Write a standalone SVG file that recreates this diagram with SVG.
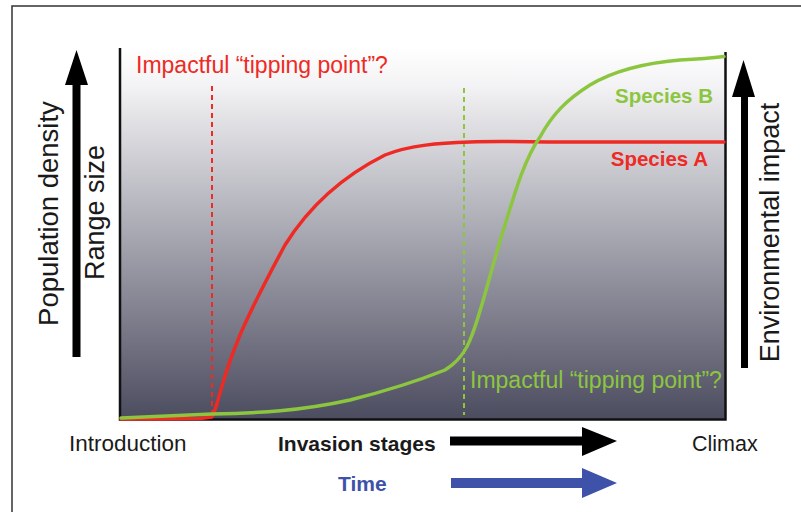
<svg xmlns="http://www.w3.org/2000/svg" width="801" height="512" viewBox="0 0 801 512">
<defs>
<linearGradient id="bg" x1="0" y1="0" x2="0" y2="1">
<stop offset="0" stop-color="#ffffff"/>
<stop offset="0.1" stop-color="#f3f3f5"/>
<stop offset="0.5" stop-color="#a8a8b2"/>
<stop offset="1" stop-color="#4c4c60"/>
</linearGradient>
<style>
text{font-family:"Liberation Sans",Arial,sans-serif}
.lbl{fill:#1a1a1a}
.b{font-weight:bold}
.red{fill:#ee2a24}
.grn{fill:#8cc63f}
.curve{fill:none;stroke-width:3.5;stroke-linecap:round;stroke-linejoin:round}
.dash{stroke-width:2;stroke-dasharray:5 4;fill:none}
</style>
</defs>
<rect width="801" height="512" fill="#ffffff"/>
<path d="M12 512 V6 H801" fill="none" stroke="#333" stroke-width="1.5"/>
<g id="plot">
<rect x="120" y="48" width="605" height="371" fill="url(#bg)"/>
<path d="M120 48 V419.5 H725.5 V52" fill="none" stroke="#111" stroke-width="2.5"/>
</g>
<g id="connectors">
<line class="dash" x1="212" y1="86" x2="212" y2="415" stroke="#ee2a24"/>
<line class="dash" x1="464" y1="88" x2="464" y2="415" stroke="#8cc63f"/>
<path class="curve" stroke="#ee2a24" d="M121 419 L150 419 L200 418.5 L212 417 C216 410 219 395 223 383 C228 365 233 352 240 335 C250 312 265 282 285 245 C310 205 345 175 385 155 C410 145 440 143 470 142 C500 141 530 142 560 142 L724 142"/>
<path class="curve" stroke="#8cc63f" d="M121 418 L212 414 C260 413 300 411 350 400 C390 390 420 380 445 370 C458 362 466 352 472 335 C482 310 492 265 505 225 C515 192 525 158 540 137 C552 115 566 100 590 85 C615 70 645 63 680 60 C700 59 712 58 724 56.5"/>
<path d="M72.5 357 V85 H65 L76.5 50 L88 85 H80.5 V357 Z" fill="#000"/>
<path d="M741 368 V97 H732 L743.5 60 L755 97 H748 V368 Z" fill="#000"/>
<path d="M450 436.5 H582 V427 L617 441 L582 456 V445.5 H450 Z" fill="#000"/>
<path d="M451 478 H582 V468 L617 483 L582 498 V488 H451 Z" fill="#3d52a8"/>
</g>
<g id="labels">
<text class="red" x="136" y="73" style="font-size:23px">Impactful “tipping point”?</text>
<text class="grn" x="470" y="388" style="font-size:23px">Impactful “tipping point”?</text>
<text class="grn b" x="713" y="103" style="font-size:20.5px" text-anchor="end">Species B</text>
<text class="red b" x="708" y="166" style="font-size:20.5px" text-anchor="end">Species A</text>
<text class="lbl" transform="translate(58 213.5) rotate(-90)" text-anchor="middle" style="font-size:27.5px">Population density</text>
<text class="lbl" transform="translate(104 212.5) rotate(-90)" text-anchor="middle" style="font-size:27px">Range size</text>
<text class="lbl" transform="translate(779 232.5) rotate(-90)" text-anchor="middle" style="font-size:27px">Environmental impact</text>
<text class="lbl" x="69" y="451" style="font-size:22.5px">Introduction</text>
<text class="lbl b" x="278" y="451" style="font-size:21px">Invasion stages</text>
<text class="lbl" x="692" y="451" style="font-size:21.5px">Climax</text>
<text class="b" x="338" y="491" style="font-size:21px" fill="#3d52a8">Time</text>
</g>
</svg>
